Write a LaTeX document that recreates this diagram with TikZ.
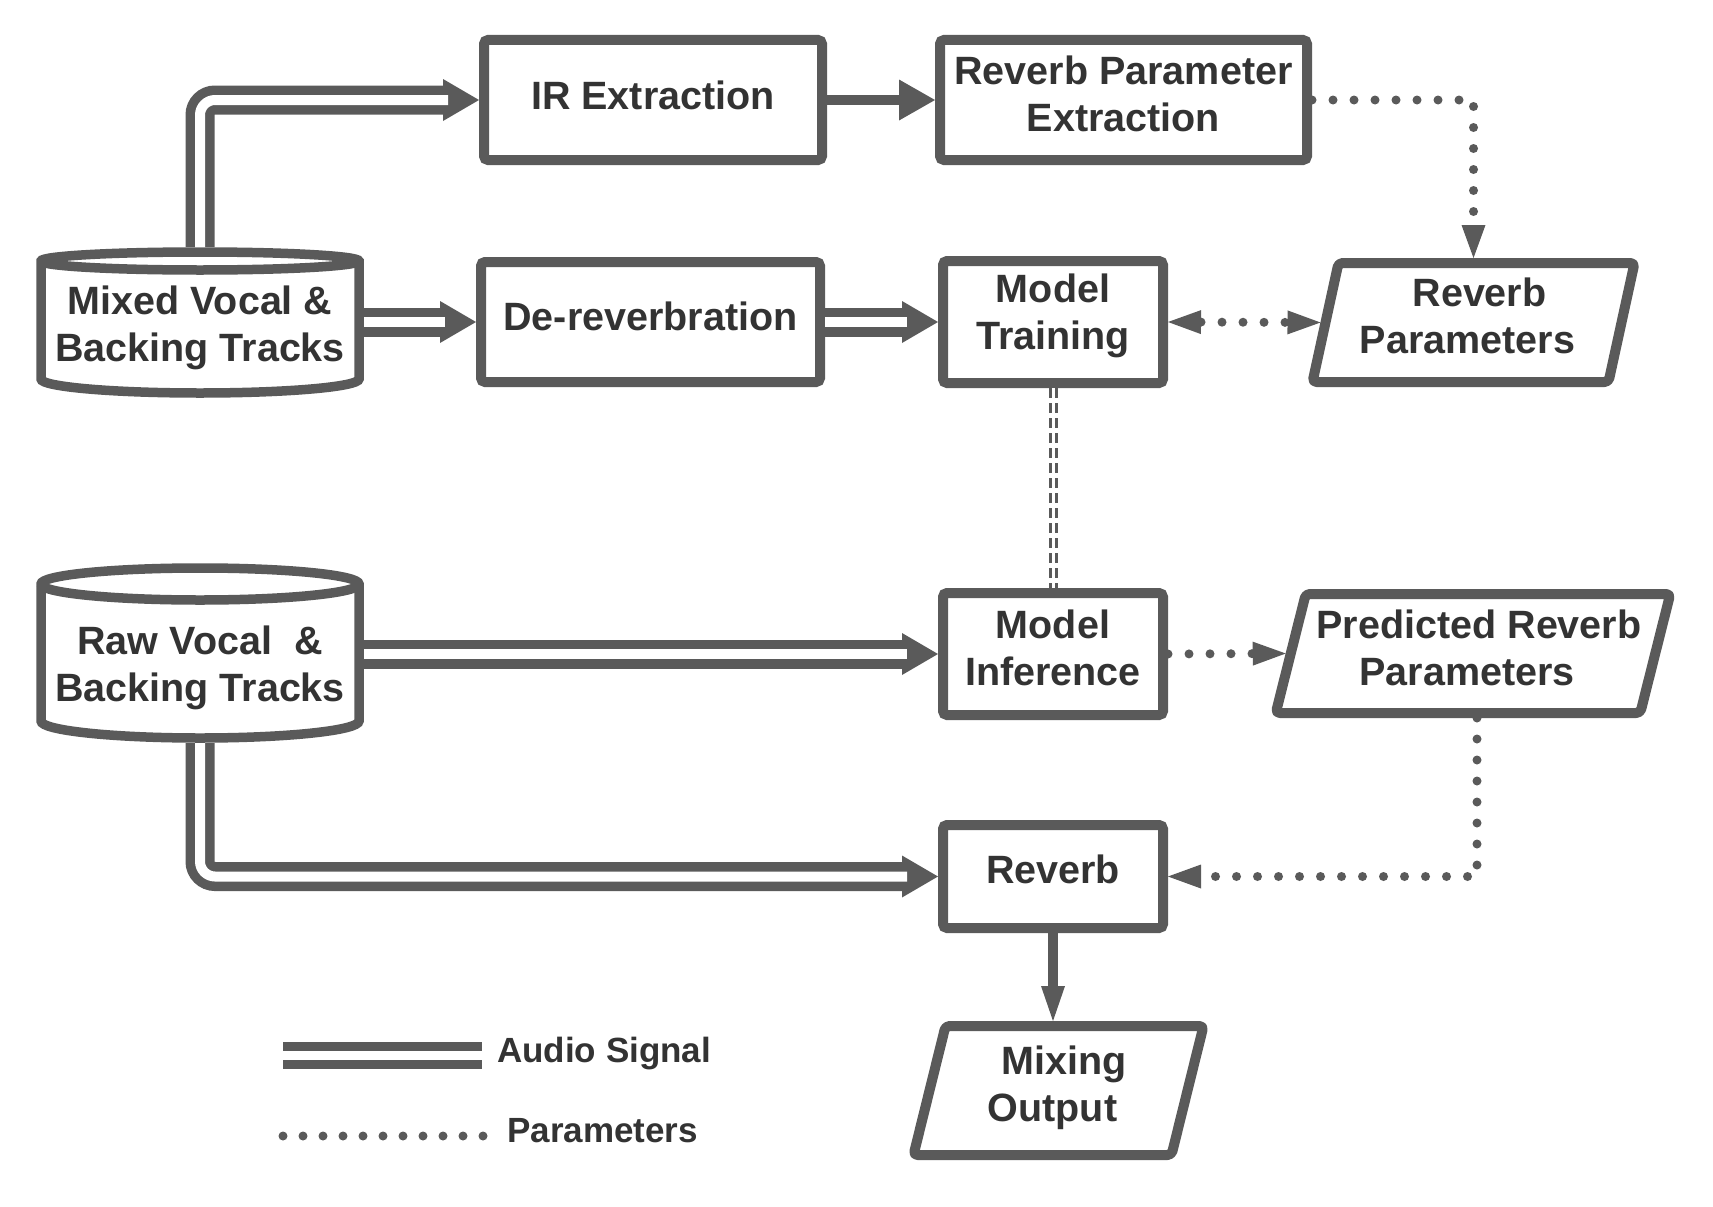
\documentclass[tikz,border=0pt]{standalone}
\usepackage{fontspec}
\setmainfont{Liberation Sans}
\usetikzlibrary{arrows.meta,calc}
\definecolor{lc}{HTML}{5A5A5A}
\definecolor{tc}{HTML}{333333}
\newcommand\mainfnt{\fontsize{39.5pt}{47pt}\selectfont\bfseries}
\newcommand\legfnt{\fontsize{35pt}{42pt}\selectfont\bfseries}
\newcommand\audiolink[1]{\draw[audio] #1; \draw[audioin] #1;}
\begin{document}
\begin{tikzpicture}[x=1pt,y=1pt,
  box/.style={draw=lc, line width=10pt, rounded corners=4pt, inner sep=0pt},
  txt/.style={inner sep=0pt, font=\mainfnt, text=tc, align=center, yshift=6pt},
  ghost/.style={inner sep=0pt, outer sep=5pt},
  cyl/.style={inner sep=0pt, outer sep=0pt, font=\mainfnt, text=tc, align=center},
  outline/.style={draw=lc, line width=10pt, rounded corners=4pt, line join=round},
  cylline/.style={draw=lc, line width=9.5pt},
  audio/.style={draw=lc, line width=29pt, rounded corners=15pt, -{Triangle[length=36pt,width=42pt,line width=0pt]}},
  audioin/.style={draw=white, line width=10pt, rounded corners=15pt, shorten >=31pt},
  signal/.style={draw=lc, line width=10pt, -{Triangle[length=36pt,width=41pt,line width=0pt]}},
  param/.style={draw=lc, line width=9pt, line cap=round, dash pattern=on 0pt off 21pt},
  ptip/.style={-{Triangle[length=33pt,width=24pt,line width=0pt]}},
  ptips/.style={{Triangle[length=33pt,width=24pt,line width=0pt]}-{Triangle[length=33pt,width=24pt,line width=0pt]}},
  link/.style={draw=lc, double=white, double distance=3pt, line width=3pt, dash pattern=on 10pt off 5pt},
  legtext/.style={anchor=base west, inner sep=0pt, font=\legfnt, text=tc},
]
\useasboundingbox (0,0) rectangle (1713,-1207);

% process boxes
\node[box, minimum width=338pt, minimum height=120pt, label={[txt, yshift=-1pt]center:{IR Extraction}}] (ir) at (653,-100) {};
\node[box, minimum width=367pt, minimum height=120pt, label={[txt]center:{Reverb Parameter\\Extraction}}] (rpe) at (1123.5,-100) {};
\node[box, minimum width=339pt, minimum height=120pt, label={[txt]center:{De-reverbration}}] (der) at (650.5,-322) {};
\node[box, minimum width=220pt, minimum height=122pt, label={[txt]center:{Model\\Training}}] (mt) at (1053,-322) {};
\node[box, minimum width=220pt, minimum height=122pt, label={[txt]center:{Model\\Inference}}] (mi) at (1053,-654) {};
\node[box, minimum width=220pt, minimum height=103pt, label={[txt, yshift=1pt]center:{Reverb}}] (rv) at (1053,-876.5) {};

% data (parallelogram) nodes
\node[ghost, minimum width=296pt, minimum height=119pt, label={[txt, yshift=1pt]center:{\hspace*{12pt}Reverb\\Parameters\hspace*{12pt}}}] (rp) at (1473.5,-322.5) {};
\node[ghost, minimum width=364.5pt, minimum height=119pt, label={[txt]center:{\hspace*{12pt}Predicted Reverb\\Parameters\hspace*{12pt}}}] (pred) at (1473,-653.5) {};
\node[ghost, minimum width=258pt, minimum height=129pt, label={[txt, yshift=-3pt]center:{\hspace*{12pt}Mixing\\Output\hspace*{12pt}}}] (mix) at (1058.5,-1090.5) {};
\draw[outline, shift={(rp.center)}] (-135,59.5) -- (161,59.5) -- (135,-59.5) -- (-161,-59.5) -- cycle;
\draw[outline, shift={(pred.center)}] (-167.25,59.5) -- (197.25,59.5) -- (167.25,-59.5) -- (-197.25,-59.5) -- cycle;
\draw[outline, shift={(mix.center)}] (-113,64.5) -- (145,64.5) -- (113,-64.5) -- (-145,-64.5) -- cycle;

% storage (cylinder) nodes
\node[cyl, minimum width=328pt, minimum height=161.5pt] (mixed) at (200,-327.75) {Mixed Vocal \&\\Backing Tracks};
\node[cyl, minimum width=328pt, minimum height=149.3pt] (raw) at (200,-668.35) {Raw Vocal\ \ \&\\Backing Tracks};
\draw[cylline, shift={(mixed.center)}] (-159,66.75) -- (-159,-51.25)
  arc[start angle=180,end angle=360,x radius=159pt,y radius=14pt] -- (159,66.75)
  arc[start angle=0,end angle=180,x radius=159pt,y radius=9pt] -- cycle;
\draw[cylline, shift={(mixed.center)}] (-159,66.75) arc[start angle=180,end angle=360,x radius=159pt,y radius=9pt];
\draw[cylline, shift={(raw.center)}] (-159,84.35) -- (-159,-52.65)
  arc[start angle=180,end angle=360,x radius=159pt,y radius=17pt] -- (159,84.35)
  arc[start angle=0,end angle=180,x radius=159pt,y radius=16pt] -- cycle;
\draw[cylline, shift={(raw.center)}] (-159,84.35) arc[start angle=180,end angle=360,x radius=159pt,y radius=16pt];

% audio signal connectors
\audiolink{(mixed.north) |- (ir.west)}
\audiolink{(mixed.east |- der.west) -- (der.west)}
\audiolink{(der.east) -- (mt.west)}
\audiolink{(raw.east |- mi.west) -- (mi.west)}
\audiolink{(raw.south) |- (rv.west)}

% single line connectors
\draw[signal] (ir.east) -- (rpe.west);
\draw[signal, -{Triangle[length=35pt,width=24pt,line width=0pt]}] (rv.south) -- (rv.south |- mix.north);

% parameter connectors
\draw[param, ptip] (rpe.east) -| (rp.north);
\draw[param, ptips] (mt.east) -- (rp.west);
\draw[param, ptip] (mi.east) -- (pred.west);
\draw[param, ptip] ([xshift=4pt]pred.south) |- (rv.east);

% model link
\draw[link] (mt.south) -- (mi.north);

% legend
\coordinate (la1) at (283,-1055);
\coordinate (la2) at (482,-1055);
\draw[lc, line width=27pt] (la1) -- (la2);
\draw[white, line width=9pt] (la1) -- (la2);
\node[legtext] (lat) at (497,-1062) {Audio Signal};
\coordinate (lp1) at (283,-1136);
\coordinate (lp2) at (484,-1136);
\draw[param, dash pattern=on 0pt off 20pt] (lp1) -- (lp2);
\node[legtext] (lpt) at (507,-1142) {Parameters};
\end{tikzpicture}
\end{document}
